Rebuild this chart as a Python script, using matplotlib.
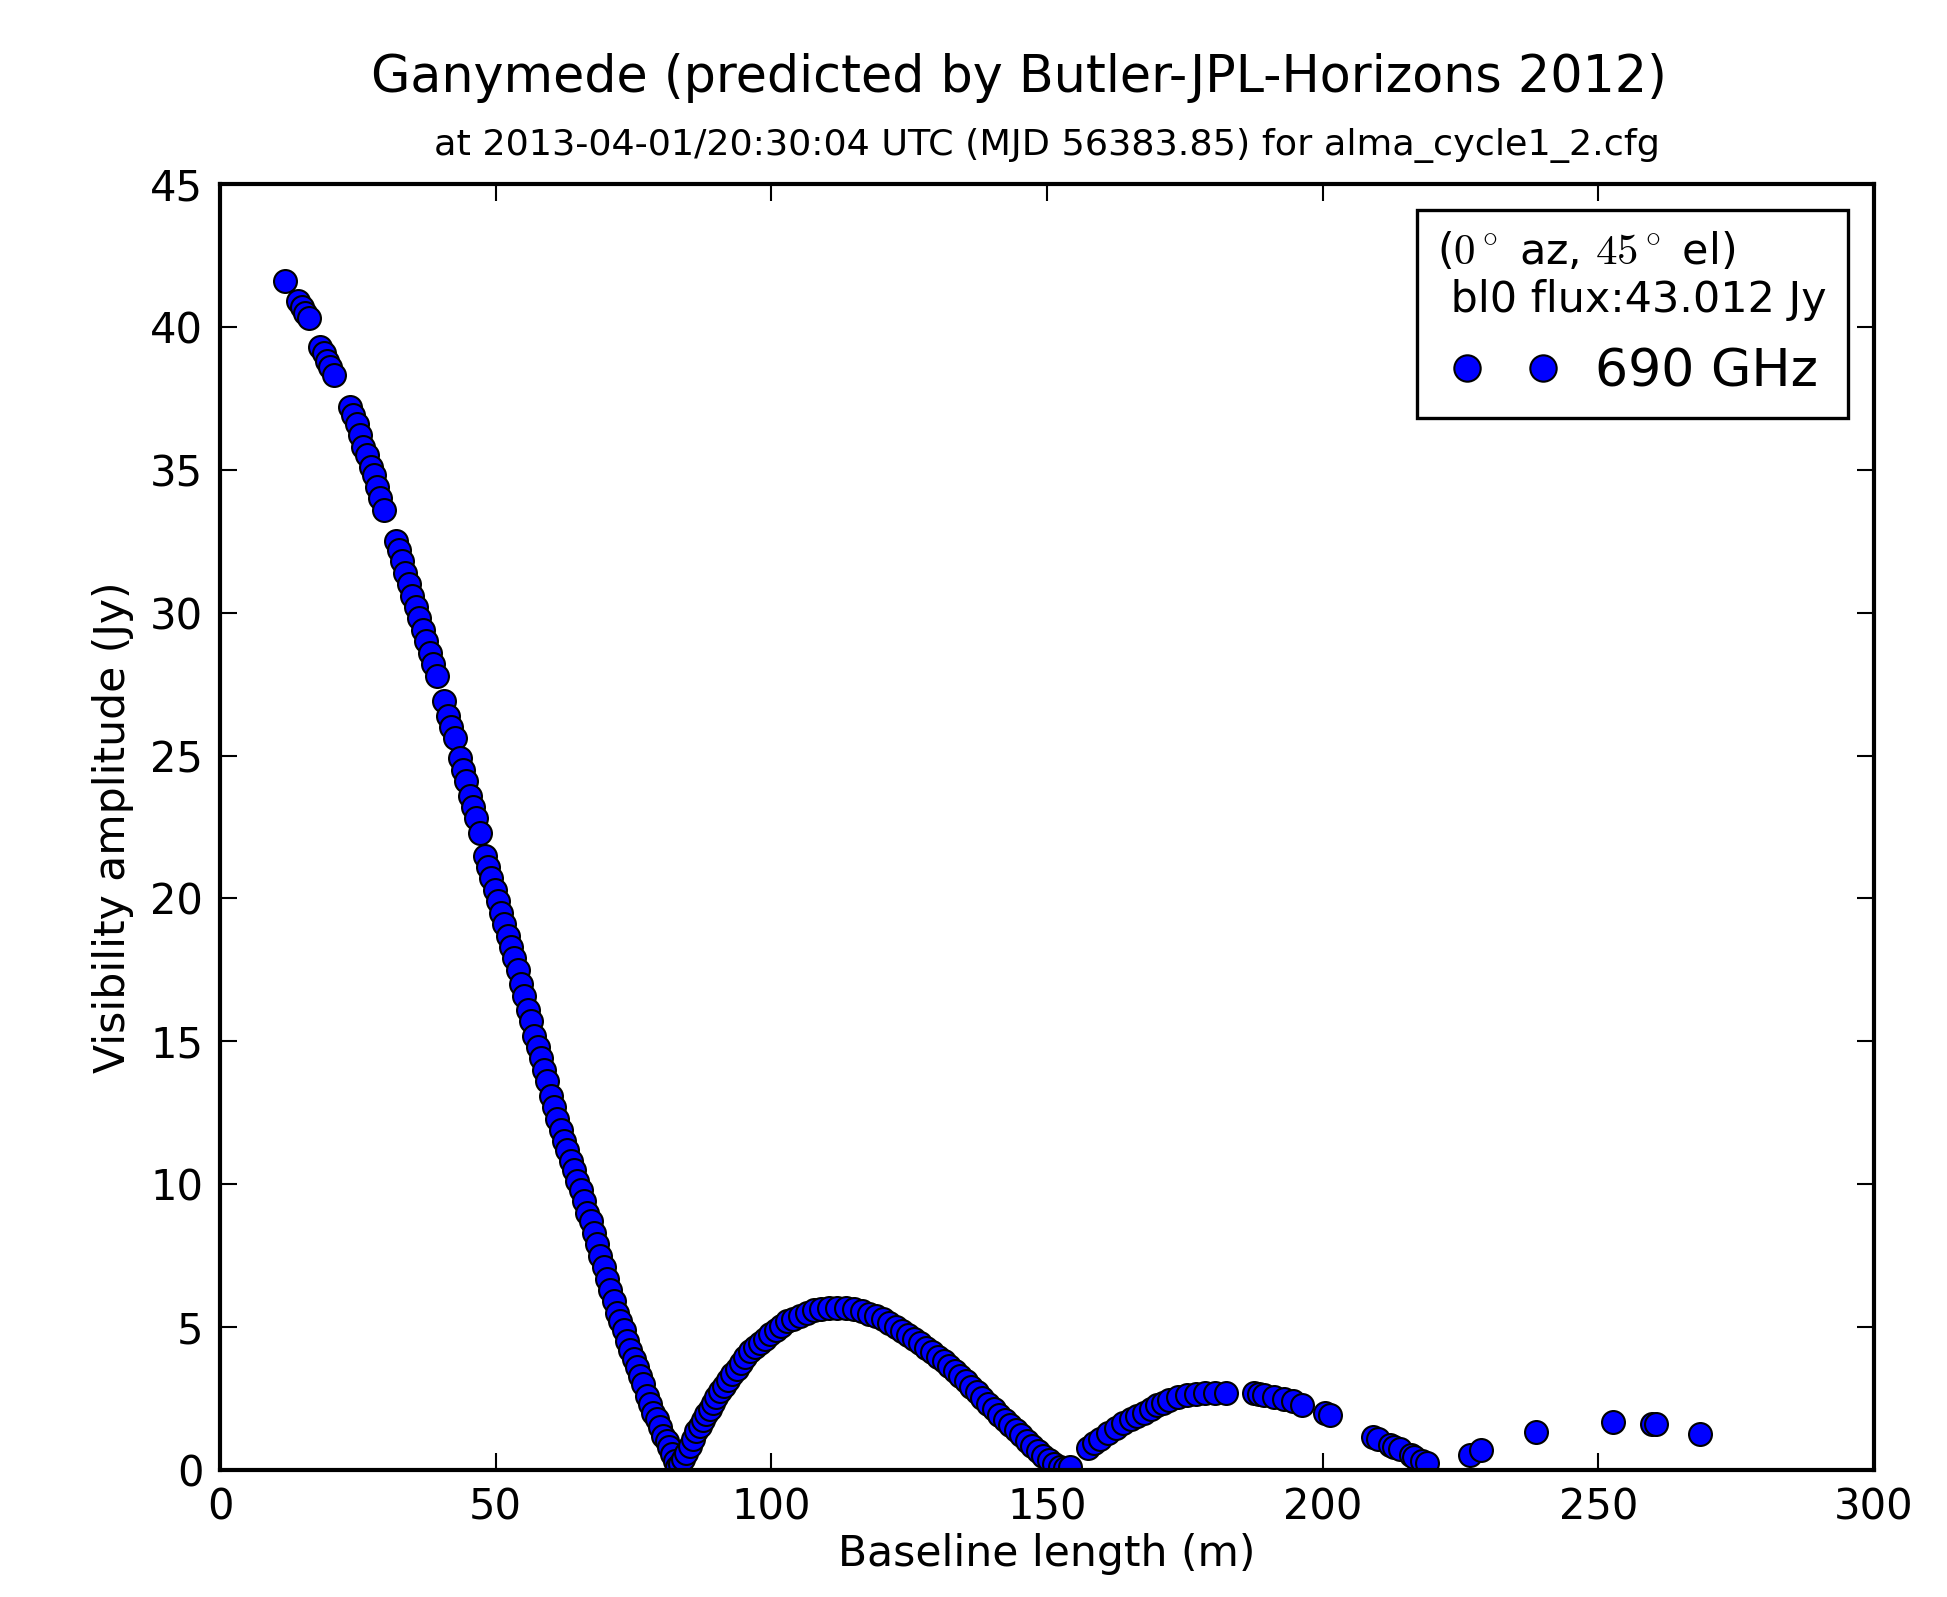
import matplotlib
matplotlib.use("Agg")
import matplotlib.pyplot as plt
from matplotlib.legend_handler import HandlerLine2D

# baseline length (m) and visibility amplitude (Jy)
baseline = [
    11.7, 14.2, 14.9, 15.5, 16.1, 18.2, 18.8, 19.4, 20.0, 20.7,
    23.6, 24.2, 24.8, 25.4, 26.0, 26.6, 27.3, 27.9, 28.5, 29.1, 29.7,
    31.9, 32.4, 33.0, 33.6, 34.2, 34.9, 35.5, 36.1, 36.8, 37.4, 38.0, 38.7, 39.3,
    40.7, 41.3, 41.9, 42.6, 43.5, 44.1, 44.7, 45.3, 45.9, 46.5, 47.2,
    48.1, 48.6, 49.2, 49.8, 50.4, 51.0, 51.6, 52.2, 52.8, 53.4, 54.0, 54.6,
    55.2, 55.8, 56.4, 57.0, 57.6, 58.2, 58.8, 59.4, 60.0, 60.6, 61.2, 61.8,
    62.4, 63.0, 63.6, 64.2, 64.8, 65.4, 66.0, 66.6, 67.2, 67.8, 68.4, 69.0,
    69.6, 70.2, 70.8, 71.4, 72.0, 72.6, 73.2, 73.8, 74.4, 75.0, 75.6, 76.2,
    76.8, 77.4, 78.0, 78.6, 79.2, 79.8, 80.4, 81.0, 81.5, 82.0, 82.5, 82.9,
    83.4, 84.0, 84.6, 85.2, 85.8, 86.4, 87.0, 87.6, 88.2, 88.8, 89.4, 90.0,
    90.7, 91.4, 92.1, 92.9, 93.7, 94.5, 95.3, 96.1, 97.0, 97.9, 98.8, 99.8,
    100.8, 101.8, 102.9, 104.0, 105.2, 106.4, 107.7, 109.0, 110.4, 112.0,
    113.5, 115.0, 116.4, 117.7, 119.0, 120.2, 121.4, 122.6, 123.7, 124.8,
    125.9, 127.0, 128.1, 129.2, 130.3, 131.3, 132.3, 133.3, 134.3, 135.3,
    136.3, 137.3, 138.3, 139.3, 140.3, 141.3, 142.3, 143.3, 144.3, 145.3,
    146.3, 147.3, 148.3, 149.3, 150.3, 151.3, 152.3, 153.3, 154.2,
    157.4, 158.5, 159.7, 161.0, 162.5, 163.8, 165.2, 166.4, 167.6, 168.8,
    169.9, 171.0, 172.2, 173.8, 175.4, 177.0, 178.7, 180.5, 182.4, 187.5,
    188.4, 189.3, 191.1, 193.0, 194.6, 196.3, 200.4, 201.3, 209.2, 210.0,
    212.2, 212.9, 214.0, 216.0, 216.6, 218.0, 218.9, 226.8, 228.7, 238.7,
    252.7, 259.7, 260.5, 268.5,
]
amplitude = [
    41.6, 40.9, 40.7, 40.5, 40.3, 39.3, 39.1, 38.8, 38.6, 38.3,
    37.2, 36.9, 36.6, 36.2, 35.8, 35.5, 35.1, 34.8, 34.4, 34.0, 33.6,
    32.5, 32.2, 31.8, 31.4, 31.0, 30.6, 30.2, 29.8, 29.4, 29.0, 28.6, 28.2, 27.8,
    26.9, 26.4, 26.0, 25.6, 24.9, 24.5, 24.1, 23.6, 23.2, 22.8, 22.3,
    21.5, 21.1, 20.7, 20.3, 19.9, 19.5, 19.1, 18.7, 18.3, 17.9, 17.5, 17.0,
    16.6, 16.1, 15.7, 15.2, 14.8, 14.4, 14.0, 13.6, 13.1, 12.7, 12.3, 11.9,
    11.5, 11.2, 10.8, 10.5, 10.1, 9.8, 9.4, 9.0, 8.7, 8.3, 7.9, 7.5,
    7.1, 6.7, 6.3, 5.9, 5.5, 5.2, 4.9, 4.5, 4.2, 3.9, 3.6, 3.3,
    3.0, 2.6, 2.3, 2.0, 1.8, 1.5, 1.2, 1.0, 0.8, 0.55, 0.3, 0.1,
    0.2, 0.4, 0.6, 0.85, 1.1, 1.35, 1.55, 1.75, 1.95, 2.15, 2.35, 2.55,
    2.75, 2.95, 3.15, 3.35, 3.55, 3.75, 3.95, 4.15, 4.3, 4.45, 4.6, 4.75,
    4.9, 5.05, 5.2, 5.3, 5.4, 5.5, 5.6, 5.65, 5.67, 5.68,
    5.67, 5.62, 5.55, 5.47, 5.38, 5.27, 5.15, 5.0, 4.86, 4.72,
    4.58, 4.43, 4.28, 4.12, 3.96, 3.8, 3.63, 3.46, 3.28, 3.1,
    2.92, 2.72, 2.52, 2.32, 2.12, 1.93, 1.75, 1.57, 1.39, 1.21,
    1.03, 0.85, 0.68, 0.5, 0.35, 0.22, 0.12, 0.06, 0.1,
    0.76, 0.93, 1.1, 1.28, 1.46, 1.63, 1.8, 1.9, 1.98, 2.12,
    2.27, 2.36, 2.45, 2.54, 2.62, 2.67, 2.7, 2.71, 2.7, 2.7,
    2.66, 2.62, 2.56, 2.5, 2.4, 2.27, 1.98, 1.92, 1.17, 1.1,
    0.88, 0.82, 0.72, 0.52, 0.47, 0.32, 0.23, 0.52, 0.7, 1.34,
    1.69, 1.61, 1.6, 1.25,
]

plt.rcParams['mathtext.fontset'] = 'cm'

fig = plt.figure(figsize=(1947 / 300, 1597 / 300), dpi=300)
ax = fig.add_axes([0.113, 0.0795, 0.8495, 0.8053])

line, = ax.plot(baseline, amplitude, 'o', color='#0000ff', markeredgecolor='black',
                markeredgewidth=0.5, markersize=5.5, label='690 GHz')

ax.set_xlim(0, 300)
ax.set_ylim(0, 45)
ax.set_xticks(range(0, 301, 50))
ax.set_yticks(range(0, 46, 5))
ax.tick_params(direction='in', top=True, right=True, length=4, width=0.5,
               labelsize=10, pad=4)
for s in ax.spines.values():
    s.set_linewidth(1.0)

ax.set_xlabel('Baseline length (m)', fontsize=10.2, labelpad=1)
ax.set_ylabel('Visibility amplitude (Jy)', fontsize=10.2, labelpad=4)

fig.text(0.5234, 0.951, 'Ganymede (predicted by Butler-JPL-Horizons 2012)',
         ha='center', va='center', fontsize=12.2)
fig.text(0.5378, 0.909, 'at 2013-04-01/20:30:04 UTC (MJD 56383.85) for alma_cycle1_2.cfg',
         ha='center', va='center', fontsize=8.75)

leg = ax.legend(loc='upper right', numpoints=2, fontsize=12.5, markerscale=1.15,
                title='($0^\\circ$ az, $45^\\circ$ el)\n bl0 flux:43.012 Jy',
                title_fontsize=10.3, alignment='left', fancybox=False,
                framealpha=1, edgecolor='black', borderaxespad=0.5,
                handlelength=2.58, handletextpad=0.44, labelspacing=0.5,
                handler_map={line: HandlerLine2D(marker_pad=0.56)})
leg.get_frame().set_linewidth(0.8)

fig.savefig('out.png', dpi=300)
